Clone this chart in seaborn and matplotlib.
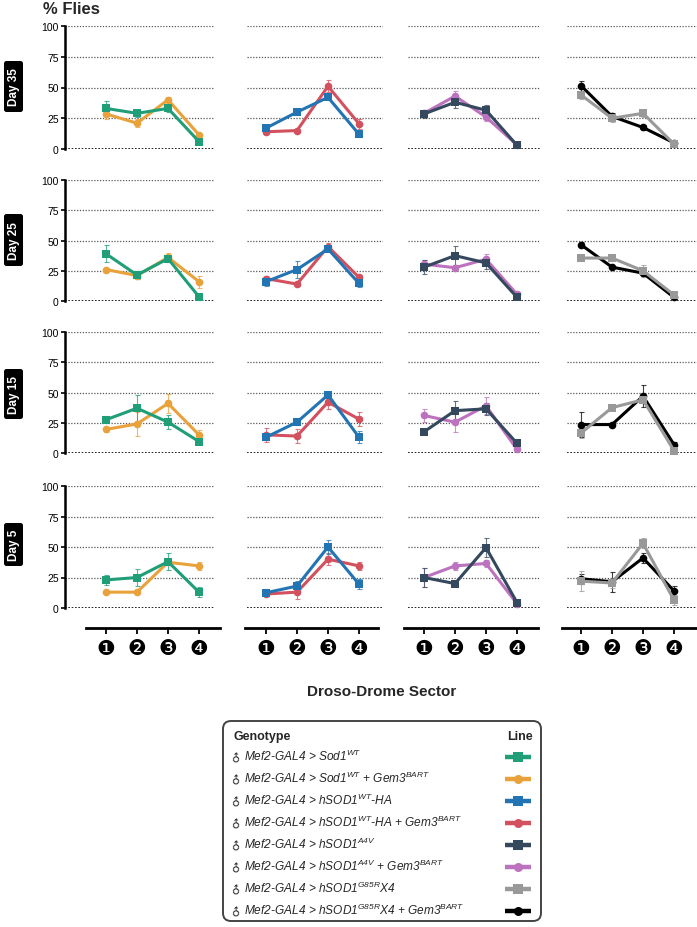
import matplotlib
matplotlib.use("Agg")
import matplotlib.pyplot as plt
from matplotlib.patches import FancyBboxPatch
from matplotlib.lines import Line2D
import seaborn as sns

# Data: mean % flies per sector (1-4) and error bars
sectors = [1, 2, 3, 4]
sector_labels = ["❶", "❷", "❸", "❹"]
days = ["Day 35", "Day 25", "Day 15", "Day 5"]

genotypes = ["sod1", "sod1_gem", "hsod1", "hsod1_gem", "a4v", "a4v_gem", "g85r", "g85r_gem"]
panel_pairs = [("sod1", "sod1_gem"), ("hsod1", "hsod1_gem"), ("a4v", "a4v_gem"), ("g85r", "g85r_gem")]

day35_mean = {
    "sod1": [33, 29, 33, 6], "sod1_gem": [28.5, 21, 40, 11.5],
    "hsod1": [17, 30, 42, 12], "hsod1_gem": [14, 15, 51, 20.5],
    "a4v": [28.5, 38, 31.5, 3], "a4v_gem": [29, 43, 26, 3.3],
    "g85r": [44, 25, 29, 4], "g85r_gem": [51.5, 26.5, 17.5, 5],
}
day35_err = {
    "sod1": [6, 3, 3, 1], "sod1_gem": [4, 3, 2, 1],
    "hsod1": [2, 2, 2, 2], "hsod1_gem": [2, 1, 5, 4],
    "a4v": [3, 5, 4, 1], "a4v_gem": [3, 4, 3, 1],
    "g85r": [3, 3, 3, 1], "g85r_gem": [4, 3, 2, 1],
}
day25_mean = {
    "sod1": [39, 21.5, 35, 3.5], "sod1_gem": [26, 21, 36, 16],
    "hsod1": [16, 26, 43, 14.5], "hsod1_gem": [18.5, 14, 45, 19.5],
    "a4v": [28, 37.5, 31.5, 3], "a4v_gem": [30.5, 27.5, 34.5, 5.5],
    "g85r": [35.5, 35.5, 25, 5], "g85r_gem": [46.5, 28, 23, 3],
}
day25_err = {
    "sod1": [7, 3, 3, 3], "sod1_gem": [1, 3, 4, 5],
    "hsod1": [4, 7, 2, 3], "hsod1_gem": [2, 2, 3, 2],
    "a4v": [6, 8, 5, 1], "a4v_gem": [3, 2, 4, 2],
    "g85r": [1, 2, 5, 2], "g85r_gem": [2, 1, 2, 1],
}
day15_mean = {
    "sod1": [27.5, 37, 25.5, 9.5], "sod1_gem": [19.5, 24, 41, 15],
    "hsod1": [13, 25.5, 48, 13], "hsod1_gem": [15, 14, 42, 28],
    "a4v": [17.5, 35, 36.5, 8], "a4v_gem": [31, 25.5, 39, 3],
    "g85r": [16.5, 37.5, 44, 2], "g85r_gem": [23.5, 23.5, 47, 7],
}
day15_err = {
    "sod1": [3, 11, 6, 2], "sod1_gem": [2, 10, 8, 4],
    "hsod1": [2, 2, 3, 5], "hsod1_gem": [6, 6, 6, 6],
    "a4v": [2, 8, 5, 2], "a4v_gem": [5, 8, 7, 1],
    "g85r": [4, 2, 3, 1], "g85r_gem": [10, 1, 9, 2],
}
day5_mean = {
    "sod1": [23, 25, 38, 13], "sod1_gem": [13, 13, 37.5, 34.5],
    "hsod1": [12.5, 18, 50, 19.5], "hsod1_gem": [11.5, 13, 40, 34.5],
    "a4v": [25, 20, 49.5, 4.5], "a4v_gem": [25, 34.5, 36.5, 3.5],
    "g85r": [22, 20.5, 53, 6.5], "g85r_gem": [24, 21.5, 41, 14],
}
day5_err = {
    "sod1": [4, 7, 7, 4], "sod1_gem": [1, 1, 2, 3],
    "hsod1": [3, 4, 6, 4], "hsod1_gem": [2, 6, 5, 3],
    "a4v": [8, 1, 8, 1], "a4v_gem": [8, 3, 3, 1],
    "g85r": [8, 4, 4, 4], "g85r_gem": [4, 8, 4, 4],
}
means = [day35_mean, day25_mean, day15_mean, day5_mean]
errs = [day35_err, day25_err, day15_err, day5_err]

colors = {
    "sod1": "#1F9E78", "sod1_gem": "#E9A23B",
    "hsod1": "#2374B2", "hsod1_gem": "#D3505F",
    "a4v": "#34495E", "a4v_gem": "#BC72BE",
    "g85r": "#999999", "g85r_gem": "#000000",
}
markers = {g: ("o" if g.endswith("_gem") else "s") for g in genotypes}

labels = {
    "sod1": "Mef2-GAL4 > Sod1$^{WT}$",
    "sod1_gem": "Mef2-GAL4 > Sod1$^{WT}$ + Gem3$^{BART}$",
    "hsod1": "Mef2-GAL4 > hSOD1$^{WT}$-HA",
    "hsod1_gem": "Mef2-GAL4 > hSOD1$^{WT}$-HA + Gem3$^{BART}$",
    "a4v": "Mef2-GAL4 > hSOD1$^{A4V}$",
    "a4v_gem": "Mef2-GAL4 > hSOD1$^{A4V}$ + Gem3$^{BART}$",
    "g85r": "Mef2-GAL4 > hSOD1$^{G85R}$X4",
    "g85r_gem": "Mef2-GAL4 > hSOD1$^{G85R}$X4 + Gem3$^{BART}$",
}

sns.set_theme(style="white")
plt.rcParams["font.family"] = ["Liberation Sans", "DejaVu Sans"]
plt.rcParams["mathtext.fontset"] = "custom"
plt.rcParams["mathtext.it"] = "Liberation Sans:italic"
plt.rcParams["mathtext.rm"] = "Liberation Sans:italic"
plt.rcParams["mathtext.default"] = "it"

W, H = 697, 928
fig = plt.figure(figsize=(W / 100, H / 100), dpi=100)


def px_axes(left, right, top, bottom):
    return fig.add_axes([left / W, 1 - bottom / H, (right - left) / W, (bottom - top) / H])


# layout in pixels
col_px = [(65, 215, 106), (247, 383, 266), (408, 540, 424), (567, 697, 581)]
bottom_px = [(86, 220), (245, 378), (404, 538), (562, 697)]
row_px = [(27, 150), (181, 302), (333, 454), (487, 609)]
step = 31.0

ov = fig.add_axes([0, 0, 1, 1])
ov.set_xlim(0, W)
ov.set_ylim(H, 0)
ov.axis("off")

for r, (top, bot) in enumerate(row_px):
    for c, (left, right, p1) in enumerate(col_px):
        ax = px_axes(left, right, top, bot)
        ax.set_facecolor("none")
        ax.set_xlim(1 + (left - p1) / step, 1 + (right - p1) / step)
        ax.set_ylim(0, 100)
        for y in [25, 50, 75, 100]:
            ax.axhline(y, color="#555555", lw=0.9, ls=(0, (1, 1.3)), zorder=0)
        ax.axhline(0, color="black", lw=1.2, ls=(0, (1, 1)), zorder=0)
        for s in ["top", "right", "bottom"]:
            ax.spines[s].set_visible(False)
        ax.set_xticks([])
        if c == 0:
            ax.spines["left"].set_linewidth(1.8)
            ax.spines["left"].set_color("black")
            ax.set_yticks([0, 25, 50, 75, 100])
            ax.tick_params(axis="y", length=3, width=1.2, pad=1.5, labelsize=7.5,
                           color="black", labelcolor="black", left=True)
        else:
            ax.spines["left"].set_visible(False)
            ax.set_yticks([])
        for g in panel_pairs[c][::-1]:
            m = means[r][g]
            e = errs[r][g]
            ax.errorbar(sectors, m, yerr=e, fmt="none", ecolor=colors[g], elinewidth=0.8,
                        capsize=1.8, capthick=0.8, alpha=0.75, clip_on=False, zorder=2)
            sns.lineplot(x=sectors, y=m, color=colors[g], marker=markers[g], markersize=5.5,
                         markeredgewidth=0, linewidth=2.2, ax=ax, legend=False,
                         clip_on=False, zorder=3)
        ax.set_xlabel("")
        ax.set_ylabel("")

# sector axes at the bottom
for c, (bl, br) in enumerate(bottom_px):
    p1 = col_px[c][2]
    bax = px_axes(bl, br, 628, 629)
    bax.set_facecolor("none")
    bax.set_xlim(1 + (bl - p1) / step, 1 + (br - p1) / step)
    for s in ["top", "right", "left"]:
        bax.spines[s].set_visible(False)
    bax.spines["bottom"].set_linewidth(2)
    bax.spines["bottom"].set_color("black")
    bax.set_yticks([])
    bax.set_xticks(sectors)
    bax.set_xticklabels(sector_labels, fontsize=15)
    bax.tick_params(axis="x", length=4, width=1.3, pad=4, color="black",
                    labelcolor="black", bottom=True)

# titles and row labels
ov.text(43, 9, "% Flies", fontsize=12, fontweight="bold", ha="left", va="center")
ov.text(382, 692, "Droso-Drome Sector", fontsize=11, fontweight="bold", ha="center", va="center")

day_boxes = [(62, 113), (215, 267), (370, 420), (524, 567)]
for d, (y0, y1) in zip(days, day_boxes):
    ov.add_patch(FancyBboxPatch((4, y0), 19, y1 - y0, boxstyle="round,pad=0,rounding_size=2.5",
                                fc="black", ec="none"))
    ov.text(13.5, (y0 + y1) / 2, d, rotation=90, color="white", fontsize=8.5,
            fontweight="bold", ha="center", va="center")

# legend box
ov.add_patch(FancyBboxPatch((223, 722), 318, 200, boxstyle="round,pad=0,rounding_size=8",
                            fc="white", ec="#444444", lw=1.4))
ov.text(233, 737, "Genotype", fontsize=9, fontweight="bold", ha="left", va="center")
ov.text(507, 737, "Line", fontsize=9, fontweight="bold", ha="left", va="center")
for i, g in enumerate(genotypes):
    y = 758 + 22 * i
    ov.text(237, y, "♂", fontsize=8, ha="center", va="center", rotation=45,
            family=["DejaVu Sans"])
    ov.text(244, y + 3.5, labels[g], fontsize=8.6, fontstyle="italic", ha="left", va="baseline")
    ov.add_line(Line2D([505, 531], [y, y], color=colors[g], lw=3.2, solid_capstyle="butt"))
    ov.add_line(Line2D([518], [y], color=colors[g], marker=markers[g], ms=6.5, mew=0))

fig.savefig("out.png", dpi=100)
